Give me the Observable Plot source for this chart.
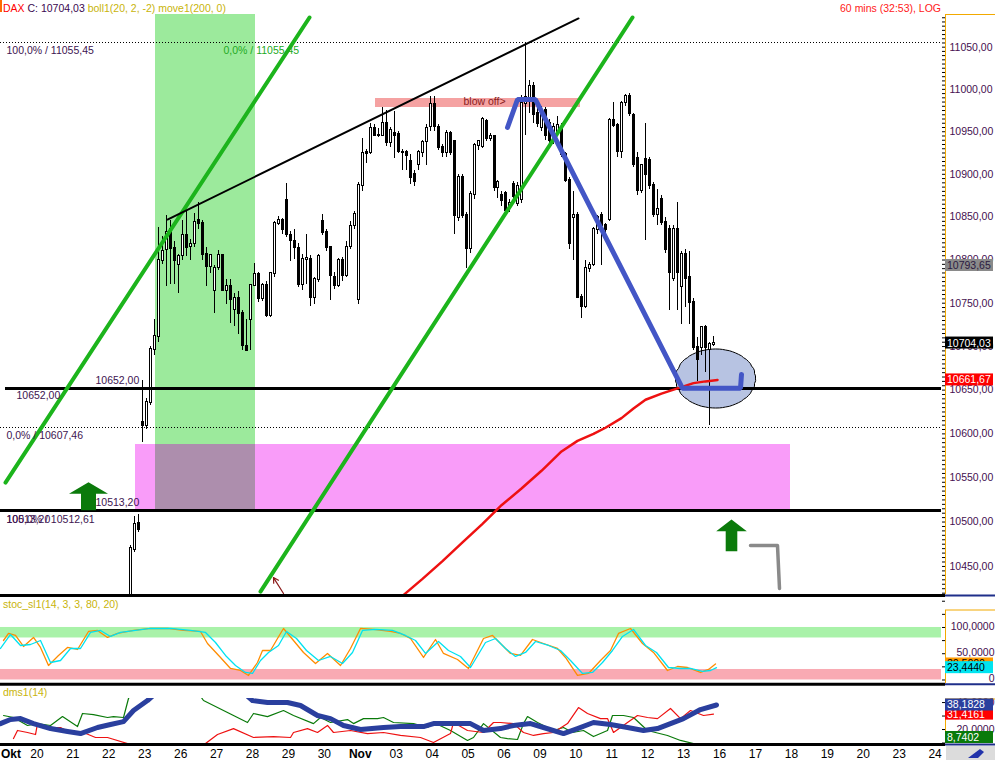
<!DOCTYPE html>
<html><head><meta charset="utf-8">
<script src="https://cdn.jsdelivr.net/npm/d3@7"></script>
<script src="https://cdn.jsdelivr.net/npm/@observablehq/plot@0.6"></script>
<style>
body{margin:0;background:#fff;}
#wrap{position:relative;width:995px;height:760px;overflow:hidden;background:#fff;font-family:"Liberation Sans",Arial,sans-serif;}
#wrap svg{display:block}
.t{position:absolute;white-space:pre;font-size:10.5px;line-height:14px;}
</style></head><body><div id="wrap"></div>
<script>
// ---------------- DATA ----------------
const dayLabels = ["Okt","20","21","22","23","26","27","28","29","30","Nov","03","04","05","06","09","10","11","12","13","16","17","18","19","20","23","24"];
const boldLabels = ["Okt","Nov"];
const barsPerDay = 9;
const firstBar = 32; // hourly bar index (9 bars per trading day from 19 Oct)
const openP = [10400,10469,10498,10613,10609,10636,10697,10711,10800,10812,
10836,10813,10795,10805,10829,10816,10819,10846,10843,10806,
10793,10765,10791,10805,10765,10769,10743,10755,10738,10700,
10731,10771,10783,10755,10771,10736,10784,10842,10846,10869,
10829,10822,10813,10772,10801,10801,10756,10777,10845,10832,
10814,10780,10770,10800,10782,10816,10840,10754,10887,10926,
10925,10954,10946,10946,10960,10937,10948,10947,10926,10926,
10915,10900,10912,10925,10939,10956,10982,10955,10931,10925,
10948,10938,10850,10896,10852,10813,10876,10934,10933,10962,
10942,10944,10884,10875,10877,10862,10888,10866,10871,10983,
10990,11003,10972,10955,10975,10960,10940,10950,10954,10923,
10893,10850,10852,10757,10746,10790,10795,10836,10852,10840,
10847,10963,10957,10927,10984,10991,10969,10919,10881,10917,
10916,10887,10853,10871,10844,10836,10778,10836,10769,10807,
10780,10751,10699,10699,10722,10697,10702];
const highP = [10474,10506,10508,10661,10640,10700,10731,10838,10827,10852,
10846,10821,10807,10846,10858,10824,10854,10867,10846,10815,
10807,10794,10811,10807,10777,10777,10761,10763,10741,10731,
10772,10796,10786,10773,10775,10786,10845,10851,10848,10889,
10833,10835,10819,10806,10830,10805,10780,10806,10853,10836,
10816,10785,10802,10803,10822,10845,10856,10890,10942,10929,
10960,10958,10954,10978,10975,10955,10974,10950,10929,10928,
10923,10905,10928,10940,10958,10991,10991,10958,10935,10952,
10950,10940,10900,10900,10855,10880,10936,10940,10967,10965,
10948,10946,10893,10880,10880,10870,10892,10890,10993,11055,
11010,11008,10985,10980,10978,10965,10960,10968,10960,10925,
10896,10880,10855,10760,10800,10797,10838,10852,10855,10842,
10966,10985,10960,10986,10994,10995,10972,10925,10912,10960,
10920,10890,10882,10875,10850,10840,10840,10867,10810,10812,
10810,10755,10710,10722,10724,10705,10712];
const lowP = [10395,10466,10488,10590,10605,10632,10690,10705,10795,10769,
10772,10772,10761,10800,10804,10800,10815,10835,10800,10769,
10784,10738,10788,10763,10748,10726,10723,10714,10696,10695,
10696,10769,10751,10752,10733,10733,10780,10840,10830,10826,
10798,10801,10768,10765,10772,10746,10748,10774,10828,10810,
10753,10766,10768,10775,10780,10812,10836,10748,10880,10913,
10923,10944,10943,10944,10933,10931,10919,10924,10905,10905,
10888,10886,10905,10920,10910,10950,10950,10928,10920,10920,
10922,10830,10845,10848,10790,10808,10870,10928,10930,10938,
10938,10880,10872,10862,10853,10855,10870,10862,10866,10945,
10972,10960,10955,10950,10940,10935,10935,10945,10920,10890,
10812,10800,10757,10732,10744,10785,10792,10830,10794,10830,
10845,10955,10920,10918,10980,10968,10908,10875,10878,10823,
10882,10850,10840,10840,10808,10742,10775,10742,10725,10745,
10725,10695,10660,10690,10670,10610,10700];
const closeP = [10470,10497,10492,10609,10636,10697,10711,10800,10810,10832,
10813,10800,10804,10829,10815,10818,10844,10842,10807,10792,
10805,10790,10805,10765,10769,10754,10755,10738,10701,10696,
10770,10783,10755,10770,10736,10784,10842,10846,10835,10830,
10823,10814,10772,10801,10802,10756,10777,10804,10832,10815,
10782,10771,10799,10782,10815,10839,10853,10887,10924,10924,
10954,10946,10946,10960,10937,10952,10946,10927,10925,10922,
10896,10892,10925,10937,10954,10982,10956,10931,10925,10948,
10925,10852,10896,10852,10813,10876,10934,10938,10964,10942,
10944,10884,10890,10869,10858,10866,10874,10886,10983,10990,
11003,10970,10960,10975,10945,10940,10955,10957,10923,10893,
10819,10852,10757,10746,10790,10794,10835,10850,10840,10836,
10963,10957,10927,10983,10991,10971,10911,10881,10910,10900,
10887,10853,10859,10844,10812,10786,10836,10786,10806,10778,
10751,10699,10685,10722,10699,10702,10704.03];

// 200-period moving average (bar, value)
const maBar = [99,100,105,110,115,120,125,130,135,140,144,148,151,155,158,161,165,169,173,176,179];
const maVal = [10410,10417,10436,10456,10477,10498,10519,10538,10558,10580,10592,10600,10607,10618,10629,10639,10646,10652,10658,10660,10661.67];

// Stochastic %K (orange) and %D (cyan)
const kBar = [0.6,1.9,3.6,5.6,8.1,9.9,11.9,14.4,16.7,19.2,21.9,24.2,26.7,29.2,33.2,37.5,41.7,45.7,50,51.7,55,57.5,60,62,64.3,65.5,67.5,69.3,70.8,73.3,75.8,78.8,81.8,85,87.6,90,93.3,97.6,100.1,102.6,105.8,108.8,110.8,114.4,117.1,120.9,123.1,125.1,127.6,130.1,133.1,135.9,139.4,141.4,144.4,147.2,150.2,152.7,154.7,157.7,160.7,163.4,166.9,169.5,172,175.2,177.2,179];
const kVal = [75.2,88.6,84.8,63.8,81,61.9,27.6,46.7,61.9,58.1,92.4,94.3,81,88.6,94.3,98.1,98.1,94.3,92.4,69.5,42.9,21.9,18.1,8.6,33.3,56.2,56.2,79,98.1,75.2,52.4,31.4,50.5,27.6,60,98.1,96.2,92.4,88.6,79,42.9,77.1,50.5,39,21.9,79,84.8,69.5,50.5,46.7,77.1,69.5,60,42.9,8.6,12.4,37.1,56.2,88.6,98.1,69.5,52.4,18.1,25.7,23.8,14.3,20,30.5];
const dBar = [0,2.4,4.9,7.4,9.9,12.4,14.9,17.4,19.9,22.4,24.9,27.4,29.9,33.7,37.5,42.5,47.5,51.2,53.7,56.2,58.7,61.2,63,65,67,69.5,71.5,74,76.5,79.5,82.5,85.5,88.1,90.6,93.8,98.1,101.3,103.8,106.3,109.6,112.1,115.1,117.6,121.4,123.9,126.4,128.9,131.4,133.9,137.2,140.2,142.7,145.7,148.2,150.7,153.2,155.7,158.4,161.4,164.2,167.2,170.2,172.7,175.7,177.7,179.2];
const dVal = [60,86.7,65.7,67.6,75.2,33.3,37.1,60,60,90.5,94.3,82.9,90.5,94.3,98.1,98.1,94.3,90.5,71.4,46.7,27.6,14.3,12.4,37.1,52.4,65.7,92.4,79,56.2,37.1,44.8,31.4,52.4,94.3,96.2,94.3,84.8,75.2,50.5,73.3,56.2,44.8,23.8,71.4,79,60,44.8,52.4,73.3,65.7,56.2,37.1,12.4,14.3,33.3,56.2,82.9,96.2,65.7,52.4,23.8,21.9,21.9,16.2,18.1,23.444];

// DMS(14): ADX (blue), green and red directional lines
const adxBar = [0,2.4,4.9,8.1,12.4,16.7,19.9,24.2,27.4,30.7,33.2,36.7,40,50,61.3,63,66.8,71.8,75,79.3,82.5,85.8,90.1,95.8,100.1,105.8,108.3,112.6,117.6,120.9,125.1,128.4,132.6,135.9,140.9,144.4,148.4,152.7,156.9,160.9,164.5,167.7,171,175.2,179.3];
const adxVal = [24.4,27.4,28.1,24.4,20.7,18.5,17,21.5,23.7,25.9,34.1,41.5,50,60,46,41.5,40,40,37.8,30.4,28.1,23,20,21.5,22.2,22.2,24.4,24.4,24.4,19.3,20.7,23,24.4,21.5,17,20.7,25.2,23.7,21.5,19.3,20.7,24.4,28.1,34.8,38.1828];
const grnBar = [0.6,3.1,6.6,9.1,12.4,15.4,19.2,20.4,23.2,26.7,28.2,30.7,32,35,48.7,50.7,54.2,58.2,61.7,63.3,66.8,70.8,73.3,78.3,80,82.5,86.8,88.3,90.8,94.3,95.8,98.3,103.3,106.8,108.3,112.6,116.9,118.4,120.9,125.1,126.9,129.4,130.9,131.9,134.4,138.4,140.9,143.2,145.9,148.4,151.9,153.2,155.9,158.4,162,167,170.2,173.5,176,177.2];
const grnVal = [30.4,28.9,23,24.4,23,29.6,22.2,31.9,31.1,28.9,29.6,28.9,43,55,50,41.5,36.3,30.4,25.2,31.9,29.6,34.1,30.4,24.4,28.9,25.2,27.4,24.4,28.1,28.1,28.9,25.2,24.4,21.5,25.2,19.3,11.9,14.1,24.4,14.1,13.3,12.6,24.4,29.6,25.2,19.3,21.5,17.8,19.3,14.8,19.3,30.4,30.4,28.9,19.3,15.6,11.9,9.6,9.6,8.7402];
const redBar = [3.1,4.1,6.6,8.6,9.1,12.4,14.9,17.4,20.7,23.7,26.7,31.7,35,48.7,51.2,54.2,58.2,63.3,68.3,72.5,73.3,76.8,79.3,81.8,83.3,87.6,91.8,95.8,100.1,105.1,108.3,112.6,113.4,116.9,120.9,123.4,125.1,128.4,130.9,133.4,135.9,138.4,141.9,144.7,146.9,150.2,151.9,153.4,156.9,159.4,161.9,164.5,167.7,170.2,172.7,176,178.5];
const redVal = [13.3,19.3,17.8,16.3,24.4,21.5,21.5,17.8,17.8,14.1,14.1,9.6,3,4,9.6,16.3,20.7,14.1,14.8,14.1,17.8,20.7,17.8,23,17.8,19.3,17,17.8,15.6,14.1,10.4,17,25.2,19.3,17.8,25.2,25.2,24.4,17.8,15.6,17,17.8,24.4,36.3,31.9,28.1,28.1,17.8,25.2,30.4,28.9,28.1,35.6,28.1,34.1,30.4,31.4161];

// Drawn annotations (in bar / price units)
const greenZone = {x1: 38.7, x2: 63.8, y1: 10513.2, y2: 11120};
const pinkZone = {x1: 33.7, x2: 197.8, y1: 10513.2, y2: 10588};
const blowOffZone = {x1: 93.8, x2: 145.2, y1: 10979, y2: 10989};
const dottedLevels = [11055.45, 10607.46];
const solidLevels = [10652, 10513.2];
const solidStart = [1.2, -0.125];
const channelA = [{x: 1.1, y: 10544.7}, {x: 77.3, y: 11085.3}];
const channelB = [{x: 65.0, y: 10421.8}, {x: 158.2, y: 11085.3}];
const trendTop = [{x: 41.7, y: 10847.1}, {x: 144.7, y: 11084.2}];
const bluePath = [{x:126.9,y:10955},{x:129.4,y:10988},{x:133.9,y:10988},{x:170.7,y:10652},{x:185.3,y:10652},{x:185.5,y:10668}];
const grayHook = [{x:187.7,y:10473.5},{x:194.5,y:10473.5},{x:195.0,y:10425.2}];
const upArrows = [{x: 21.9, y: 10513.2}, {x: 182.9, y: 10467.1}];
const smallArrow = [{x1: 70.8, y1: 10419.6, x2: 68.3, y2: 10437.5}];
const ellipse = {cx: 179, cy: 10663.3, rx: 10, yHi: 10697.2, yLo: 10629.5};
const annoTexts = [
  {x: 1.5, y: 11055.45, dy: 8, t: "100,0% / 11055,45", c: "#3d1450"},
  {x: 55.7, y: 11055.45, dy: 8, t: "0,0% / 11055,45", c: "#22aa22"},
  {x: 23.7, y: 10652, dy: -8, t: "10652,00", c: "#3d1450"},
  {x: 3.9, y: 10652, dy: 7.5, t: "10652,00", c: "#3d1450"},
  {x: 1.4, y: 10607.46, dy: 8, t: "0,0% / 10607,46", c: "#3d1450"},
  {x: 23.7, y: 10513.2, dy: -7.5, t: "10513,20", c: "#3d1450"},
  {x: 1.4, y: 10513.2, dy: 9.5, t: "100,0% / 10512,61", c: "#3d1450"},
  {x: 1.4, y: 10513.2, dy: 9.5, t: "10513,20", c: "#3d1450"},
  {x: 115.9, y: 10985, dy: 0, t: "blow off>", c: "#8a1c1c"}
];
const priceTicks = d3.range(10450, 11051, 50);
const lastClose = 10704.03, maLast = 10661.67, bandLast = 10793.65;
const stochLast = {k: 30.5, d: 23.444};

// ---------------- RENDER ----------------
const wrap = document.getElementById("wrap");
const W = 995, MR = 54;
const FONT = "'Liberation Sans', Arial, sans-serif";
const xDomain = [-0.125, 235.6];
const fmt2 = v => v.toFixed(2).replace(".", ",");
const fmt4 = v => v.toFixed(4).replace(".", ",");
function place(node, top) {
  const d = document.createElement("div");
  d.style.cssText = `position:absolute;left:0;top:${top}px;`;
  d.appendChild(node); wrap.appendChild(d); return node;
}
function label(text, left, top, color, extra = "") {
  const s = document.createElement("div");
  s.className = "t"; s.textContent = text;
  s.style.cssText += `left:${left}px;top:${top}px;color:${color};${extra}`;
  wrap.appendChild(s); return s;
}

const candles = openP.map((o, i) => ({bar: firstBar + i + 0.5, o, h: highP[i], l: lowP[i], c: closeP[i]}));
const ma = maBar.map((b, i) => ({x: b + 0.5, y: maVal[i]}));
const lnC = Math.log(ellipse.cy), half = (Math.log(ellipse.yHi) - Math.log(ellipse.yLo)) / 2;
const ellPts = d3.range(72).map(i => { const t = i / 72 * 2 * Math.PI; return {x: ellipse.cx + ellipse.rx * Math.cos(t), y: Math.exp(lnC + half * Math.sin(t))}; });
const overlap = {x1: Math.max(greenZone.x1, pinkZone.x1), x2: Math.min(greenZone.x2, pinkZone.x2), y1: Math.max(greenZone.y1, pinkZone.y1), y2: Math.min(greenZone.y2, pinkZone.y2)};

function arrowSymbol(headHalf, headH, shaftHalf, shaftH) {
  return {draw(ctx) {
    ctx.moveTo(0, -(headH + shaftH)); ctx.lineTo(headHalf, -shaftH); ctx.lineTo(shaftHalf, -shaftH);
    ctx.lineTo(shaftHalf, 0); ctx.lineTo(-shaftHalf, 0); ctx.lineTo(-shaftHalf, -shaftH); ctx.lineTo(-headHalf, -shaftH); ctx.closePath();
  }};
}
const rectOpts = {x1: "x1", x2: "x2", y1: "y1", y2: "y2", clip: true, shapeRendering: "crispEdges"};

const main = Plot.plot({
  width: W, height: 581, marginTop: 0, marginBottom: 0, marginLeft: 0, marginRight: MR,
  style: {fontFamily: FONT, fontSize: "10.5px", background: "none", overflow: "visible"},
  x: {domain: xDomain, round: true, axis: null},
  y: {type: "log", domain: [10417.4, 11088.9], axis: null},
  marks: [
    Plot.rect([greenZone], {...rectOpts, fill: "#9cea9c"}),
    Plot.rect([pinkZone], {...rectOpts, fill: "#f99cf9"}),
    Plot.rect([overlap], {...rectOpts, fill: "#ad8ead"}),
    Plot.rect([blowOffZone], {...rectOpts, fill: "#f5a2a2"}),
    Plot.ruleY(dottedLevels, {stroke: "#000", strokeDasharray: "1,2", shapeRendering: "crispEdges"}),
    Plot.line(ellPts, {x: "x", y: "y", curve: "linear-closed", fill: "#b7c3e2", stroke: "#000", strokeWidth: 1}),
    Plot.ruleX(candles, {x: "bar", y1: "l", y2: "h", stroke: "#000", strokeWidth: 1, clip: true, shapeRendering: "crispEdges"}),
    Plot.rect(candles, {x1: "bar", x2: "bar", y1: "o", y2: "c", insetLeft: -1, insetRight: -1, insetTop: -0.5, insetBottom: -0.5,
      fill: d => d.c >= d.o ? "#fff" : "#000", stroke: "#000", strokeWidth: 1, clip: true, shapeRendering: "crispEdges"}),
    Plot.ruleY(solidLevels, {y: d => d, x1: (d, i) => solidStart[i], x2: xDomain[1], stroke: "#000", strokeWidth: 3, shapeRendering: "crispEdges"}),
    Plot.line(ma, {x: "x", y: "y", stroke: "#ee1111", strokeWidth: 2.5, clip: true}),
    Plot.line(channelA, {x: "x", y: "y", stroke: "#1cb41c", strokeWidth: 4, clip: true}),
    Plot.line(channelB, {x: "x", y: "y", stroke: "#1cb41c", strokeWidth: 4, clip: true}),
    Plot.line(trendTop, {x: "x", y: "y", stroke: "#000", strokeWidth: 2, clip: true}),
    Plot.line(bluePath, {x: "x", y: "y", stroke: "#4356c6", strokeWidth: 5, strokeLinejoin: "miter"}),
    Plot.line(grayHook, {x: "x", y: "y", stroke: "#8a8a8a", strokeWidth: 3.5}),
    Plot.dot([upArrows[0]], {x: "x", y: "y", symbol: arrowSymbol(19.5, 11.5, 7.5, 16.5), fill: "#0b7a0b"}),
    Plot.dot([upArrows[1]], {x: "x", y: "y", symbol: arrowSymbol(15.3, 11.7, 5.8, 20), fill: "#0b7a0b"}),
    Plot.arrow(smallArrow, {x1: "x1", y1: "y1", x2: "x2", y2: "y2", stroke: "#8b1a1a", headLength: 7, strokeWidth: 1.2}),
    ...annoTexts.map(a => Plot.text([a], {x: "x", y: "y", text: "t", dy: a.dy, fill: a.c, textAnchor: "start", fontSize: 10.5})),
    Plot.axisY(d3.range(10420, 11090, 5), {anchor: "right", tickSize: 3, tickFormat: () => "", label: null, stroke: "#000"}),
    Plot.text(priceTicks, {y: d => d, text: d => fmt2(d), frameAnchor: "right", dx: 8, textAnchor: "start", fill: "#45104f", fontSize: 10.5})
  ]
});
place(main, 14);

const stoch = Plot.plot({
  width: W, height: 88, marginTop: 0, marginBottom: 0, marginLeft: 0, marginRight: MR,
  style: {fontFamily: FONT, fontSize: "10.5px", background: "none", overflow: "visible"},
  x: {domain: xDomain, round: true, axis: null},
  y: {domain: [-8.6, 159], axis: null},
  marks: [
    Plot.rect([{y1: 80, y2: 100}], {x1: xDomain[0], x2: xDomain[1], y1: "y1", y2: "y2", fill: "#a9f2a9"}),
    Plot.rect([{y1: 0, y2: 20}], {x1: xDomain[0], x2: xDomain[1], y1: "y1", y2: "y2", fill: "#f9aab3"}),
    Plot.line(kBar.map((b, i) => ({x: b, y: kVal[i]})), {x: "x", y: "y", stroke: "#ff8c00", strokeWidth: 1.3}),
    Plot.line(dBar.map((b, i) => ({x: b, y: dVal[i]})), {x: "x", y: "y", stroke: "#00e2f0", strokeWidth: 1.3}),
    Plot.axisY([0, 25, 50, 75, 100, 125, 150], {anchor: "right", tickSize: 3, tickFormat: () => "", label: null, stroke: "#000"}),
    Plot.text([[100, "100,0000"], [50, "50,0000"], [0, "0"]], {y: d => d[0], text: d => d[1], frameAnchor: "right", dx: 53, dy: -1, textAnchor: "end", fill: "#45104f", fontSize: 10.5})
  ]
});
place(stoch, 596);

const dms = Plot.plot({
  width: W, height: 62, marginTop: 14, marginBottom: 2, marginLeft: 0, marginRight: MR,
  style: {fontFamily: FONT, fontSize: "10.5px", background: "none", overflow: "visible"},
  x: {domain: xDomain, round: true, axis: null},
  y: {domain: [8.9, 43], axis: null},
  marks: [
    Plot.line(grnBar.map((b, i) => ({x: b, y: grnVal[i]})), {x: "x", y: "y", stroke: "#0a7a0a", strokeWidth: 1.2, clip: true}),
    Plot.line(redBar.map((b, i) => ({x: b, y: redVal[i]})), {x: "x", y: "y", stroke: "#ee1111", strokeWidth: 1.2, clip: true}),
    Plot.line(adxBar.map((b, i) => ({x: b, y: adxVal[i]})), {x: "x", y: "y", stroke: "#2a3f9e", strokeWidth: 5, clip: true}),
    Plot.axisY([10, 20, 30, 40], {anchor: "right", tickSize: 3, tickFormat: () => "", label: null, stroke: "#000"}),
    Plot.text([[40, "40,0000"], [20, "20,0000"]], {y: d => d[0], text: d => d[1], frameAnchor: "right", dx: 53, textAnchor: "end", fill: "#45104f", fontSize: 10.5})
  ]
});
place(dms, 684);

const dayData = dayLabels.map((t, i) => ({x: i * barsPerDay, t}));
const xax = Plot.plot({
  width: W, height: 16, marginTop: 0, marginBottom: 0, marginLeft: 0, marginRight: MR,
  style: {fontFamily: FONT, fontSize: "12px", background: "none", overflow: "visible"},
  x: {domain: xDomain, axis: null},
  y: {domain: [0, 1], axis: null},
  marks: [
    Plot.text(dayData.filter(d => !boldLabels.includes(d.t)), {x: "x", text: "t", frameAnchor: "middle", dy: 2, fill: "#000", fontSize: 12}),
    Plot.text(dayData.filter(d => boldLabels.includes(d.t) && d.x > 0), {x: "x", text: "t", frameAnchor: "middle", dy: 2, fill: "#000", fontSize: 12, fontWeight: "bold"}),
    Plot.text(dayData.filter(d => boldLabels.includes(d.t) && d.x === 0), {x: "x", text: "t", frameAnchor: "middle", dy: 2, textAnchor: "start", fill: "#000", fontSize: 12, fontWeight: "bold"})
  ]
});
place(xax, 744);

// ---- overlay: panel separators, axis frame lines, value boxes ----
const ov = d3.select(wrap).append("svg").attr("width", W).attr("height", 760)
  .style("position", "absolute").style("left", 0).style("top", 0).style("pointer-events", "none");
const sepYs = [595.5, 684.3, 744.5];
sepYs.forEach(y => {
  ov.append("line").attr("x1", 0).attr("x2", 945).attr("y1", y).attr("y2", y).attr("stroke", "#000").attr("stroke-width", 3);
  ov.append("line").attr("x1", 945).attr("x2", 995).attr("y1", y).attr("y2", y).attr("stroke", "#1f2f8a").attr("stroke-width", 2);
});
[[14.5, 594], [610, 683], [699, 743]].forEach(([a, b]) => {
  ov.append("line").attr("x1", 945.5).attr("x2", 945.5).attr("y1", a).attr("y2", b).attr("stroke", "#f2a900").attr("stroke-width", 1);
  ov.append("line").attr("x1", 945).attr("x2", 995).attr("y1", a).attr("y2", a).attr("stroke", "#f2a900").attr("stroke-width", 1);
});
function vbox(y, bg, fg, txt) {
  ov.append("rect").attr("x", 945).attr("y", y - 6).attr("width", 48).attr("height", 12).attr("fill", bg);
  ov.append("text").attr("x", 947).attr("y", y + 4).attr("fill", fg).style("font", `10.5px ${FONT}`).text(txt);
}
const yMain = v => main.scale("y").apply(v) + 14;
vbox(yMain(bandLast), "#8a8a8a", "#2a1a40", fmt2(bandLast));
vbox(yMain(lastClose), "#000", "#fff", fmt2(lastClose));
vbox(yMain(maLast), "#ff0000", "#fff", fmt2(maLast));
const yS = v => stoch.scale("y").apply(v) + 596;
vbox(yS(stochLast.k), "#ff9a00", "#000", fmt4(stochLast.k));
vbox(yS(stochLast.d), "#00e4f0", "#000", fmt4(stochLast.d));
const yD = v => Math.min(dms.scale("y").apply(v) + 684, 737);
const redLast = redVal[redVal.length - 1], adxLast = adxVal[adxVal.length - 1], grnLast = grnVal[grnVal.length - 1];
vbox(yD(redLast), "#ff0000", "#fff", fmt4(redLast));
vbox(yD(adxLast), "#2a3f9e", "#fff", fmt4(adxLast));
vbox(yD(grnLast), "#0a7a0a", "#fff", fmt4(grnLast));
ov.append("rect").attr("x", 946).attr("y", 746).attr("width", 49).attr("height", 14).attr("fill", "#dcdcdc");
ov.append("path").attr("d", "M968 758 L980 749 L984 752 L978 758 Z").attr("fill", "#2233aa");
ov.append("rect").attr("x", 0).attr("y", 0).attr("width", 2).attr("height", 12).attr("fill", "#ff6a00");

// ---- header & panel titles ----
const h = label("", 3, 1, "#000");
h.innerHTML = '<span style="color:#ff0000">DAX</span><span style="color:#3a0850"> C: 10704,03 </span><span style="color:#c8b40a">boll1(20, 2, -2) move1(200, 0)</span>';
const r = label("60 mins (32:53), LOG", 0, 1, "#ff2020");
r.style.left = (941 - r.getBoundingClientRect().width) + "px";
label("stoc_sl1(14, 3, 3, 80, 20)", 3, 597, "#c8b40a");
label("dms1(14)", 3, 685, "#c8b40a");
</script></body></html>
